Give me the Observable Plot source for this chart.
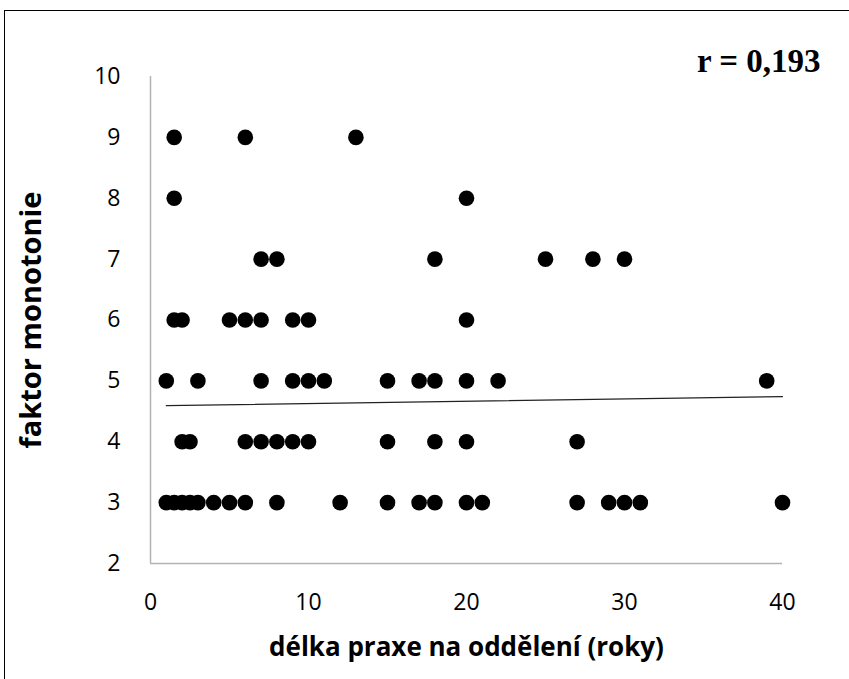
<!DOCTYPE html>
<html>
<head>
<meta charset="utf-8">
<script src="https://cdn.jsdelivr.net/npm/d3@7"></script>
<script src="https://cdn.jsdelivr.net/npm/@observablehq/plot@0.6"></script>
<style>
  html, body { margin: 0; padding: 0; background: #fff; overflow: hidden; }
  #wrap { position: relative; width: 849px; height: 679px; }
  #frame { position: absolute; left: 4px; top: 10px; width: 900px; height: 700px; border: 1.5px solid #000; box-sizing: border-box; }
  #chart { position: absolute; left: 0; top: 0; }
  #chart g[aria-label$="tick label"] { font-size: 23px; }
</style>
</head>
<body>
<div id="wrap"><div id="frame"></div><div id="chart"></div></div>
<script>
// délka praxe (roky) and faktor monotonie, row by row
const praxe = [
  1.5, 6, 13,
  1.5, 20,
  7, 8, 18, 25, 28, 30,
  1.5, 2, 5, 6, 7, 9, 10, 20,
  1, 3, 7, 9, 10, 11, 15, 17, 18, 20, 22, 39,
  2, 2.5, 6, 7, 8, 9, 10, 15, 18, 20, 27,
  1, 1.5, 2, 2.5, 3, 4, 5, 6, 8, 12, 15, 17, 18, 20, 21, 27, 29, 30, 31, 40
];
const monotonie = [
  9, 9, 9,
  8, 8,
  7, 7, 7, 7, 7, 7,
  6, 6, 6, 6, 6, 6, 6, 6,
  5, 5, 5, 5, 5, 5, 5, 5, 5, 5, 5, 5,
  4, 4, 4, 4, 4, 4, 4, 4, 4, 4, 4,
  3, 3, 3, 3, 3, 3, 3, 3, 3, 3, 3, 3, 3, 3, 3, 3, 3, 3, 3, 3
];
const trendX = [1, 40];
const trendY = [4.594, 4.742];
const xTicks = [0, 10, 20, 30, 40];
const yTicks = [2, 3, 4, 5, 6, 7, 8, 9, 10];
const xLabel = "délka praxe na oddělení (roky)";
const yLabel = "faktor monotonie";
const rLabel = "r = 0,193";

const points = praxe.map((x, i) => ({x, y: monotonie[i]}));
const trend = trendX.map((x, i) => ({x, y: trendY[i]}));

const chart = Plot.plot({
  width: 849,
  height: 679,
  marginLeft: 150,
  marginRight: 67,
  marginTop: 76,
  marginBottom: 116,
  style: {fontFamily: "'Open Sans', sans-serif", fontSize: "23px", color: "#000", background: "transparent", overflow: "visible"},
  x: {domain: [0, 40], ticks: xTicks},
  y: {domain: [2, 10], ticks: yTicks},
  marks: [
    Plot.axisX({ticks: xTicks, tickSize: 0, tickPadding: 30, label: null, fontSize: 23}),
    Plot.axisY({ticks: yTicks, tickSize: 0, tickPadding: 30, label: null, fontSize: 23}),
    Plot.ruleX([0], {y1: 2, y2: 10, stroke: "#b3b3b3", strokeWidth: 1.5}),
    Plot.ruleY([2], {x1: 0, x2: 40, stroke: "#b3b3b3", strokeWidth: 1.5}),
    Plot.line(trend, {x: "x", y: "y", stroke: "#222", strokeWidth: 1.3}),
    Plot.dot(points, {x: "x", y: "y", r: 7.8, fill: "#000", stroke: "none"}),
    Plot.text([xLabel], {frameAnchor: "bottom", dy: 92, text: d => d, fontWeight: "bold", fontSize: 26, textAnchor: "middle"}),
    Plot.text([yLabel], {frameAnchor: "left", dx: -119, rotate: -90, text: d => d, fontWeight: "bold", fontSize: 29, textAnchor: "middle"}),
    Plot.text([rLabel], {frameAnchor: "top-right", dx: 38, dy: -28, text: d => d, fontWeight: "bold", fontSize: 33, fontFamily: "'Liberation Serif', 'Times New Roman', serif", textAnchor: "end"})
  ]
});
document.getElementById("chart").appendChild(chart);
</script>
</body>
</html>
